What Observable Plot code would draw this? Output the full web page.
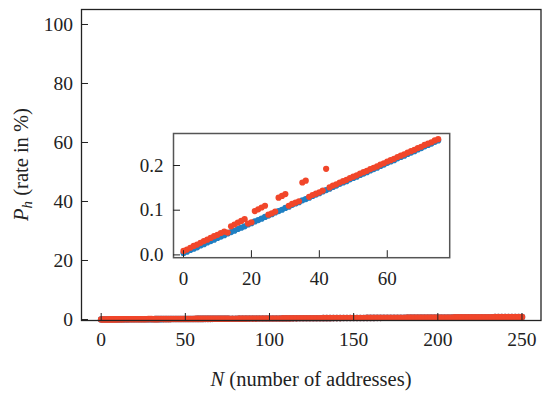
<!DOCTYPE html>
<html><head><meta charset="utf-8">
<script src="https://cdn.jsdelivr.net/npm/d3@7"></script>
<script src="https://cdn.jsdelivr.net/npm/@observablehq/plot@0.6"></script>
<style>
body{margin:0;background:#fff;}
#chart{position:relative;width:542px;height:394px;overflow:hidden;background:#fff;}
#chart svg{position:absolute;background:transparent;}
</style></head><body><div id="chart"></div>
<script>
// ---- data (rate Ph in %, N = number of addresses) ----
const insetN = [0,1,2,3,4,5,6,7,8,9,10,11,12,13,14,15,16,17,18,19,20,21,22,23,24,25,26,27,28,29,30,31,32,33,34,35,36,37,38,39,40,41,42,43,44,45,46,47,48,49,50,51,52,53,54,55,56,57,58,59,60,61,62,63,64,65,66,67,68,69,70,71,72,73,74,75];
const insetBlue = [0.004,0.007,0.011,0.014,0.017,0.021,0.024,0.028,0.031,0.034,0.038,0.041,0.044,0.048,0.051,0.054,0.058,0.061,0.064,0.068,0.071,0.075,0.078,0.081,0.085,0.088,0.091,0.095,0.098,0.101,0.105,0.108,0.112,0.115,0.118,0.122,0.125,0.128,0.132,0.135,0.138,0.142,0.145,0.148,0.152,0.155,0.159,0.162,0.165,0.169,0.172,0.175,0.179,0.182,0.185,0.189,0.192,0.195,0.199,0.202,0.206,0.209,0.212,0.216,0.219,0.222,0.226,0.229,0.232,0.236,0.239,0.243,0.246,0.249,0.253,0.256];
const insetRed = [0.009,0.012,0.016,0.020,0.023,0.027,0.031,0.034,0.038,0.042,0.045,0.049,0.052,0.050,0.064,0.068,0.072,0.076,0.080,0.070,0.073,0.098,0.102,0.106,0.110,0.090,0.093,0.097,0.128,0.132,0.136,0.110,0.114,0.117,0.120,0.162,0.166,0.130,0.134,0.137,0.140,0.144,0.1925,0.151,0.155,0.158,0.162,0.165,0.168,0.172,0.175,0.178,0.182,0.185,0.188,0.192,0.195,0.198,0.202,0.205,0.209,0.212,0.215,0.219,0.222,0.225,0.229,0.232,0.235,0.239,0.242,0.246,0.249,0.252,0.256,0.259];
const extN = [76,78,80,82,84,86,88,90,92,94,96,98,100,102,104,106,108,110,112,114,116,118,120,122,124,126,128,130,132,134,136,138,140,142,144,146,148,150,152,154,156,158,160,162,164,166,168,170,172,174,176,178,180,182,184,186,188,190,192,194,196,198,200,202,204,206,208,210,212,214,216,218,220,222,224,226,228,230,232,234,236,238,240,242,244,246,248,250];
const extBlue = [0.26,0.27,0.27,0.28,0.29,0.29,0.30,0.31,0.31,0.32,0.33,0.33,0.34,0.35,0.35,0.36,0.37,0.37,0.38,0.39,0.39,0.40,0.41,0.41,0.42,0.43,0.43,0.44,0.45,0.45,0.46,0.47,0.47,0.48,0.49,0.50,0.50,0.51,0.52,0.52,0.53,0.54,0.54,0.55,0.56,0.56,0.57,0.58,0.58,0.59,0.60,0.60,0.61,0.62,0.62,0.63,0.64,0.64,0.65,0.66,0.66,0.67,0.68,0.68,0.69,0.70,0.70,0.71,0.72,0.72,0.73,0.74,0.74,0.75,0.76,0.76,0.77,0.78,0.78,0.79,0.80,0.80,0.81,0.82,0.82,0.83,0.84,0.84];
const extRed = [0.26,0.27,0.27,0.28,0.29,0.29,0.30,0.31,0.31,0.32,0.33,0.33,0.34,0.35,0.35,0.36,0.37,0.37,0.38,0.39,0.39,0.40,0.41,0.41,0.42,0.43,0.43,0.44,0.45,0.45,0.46,0.47,0.47,0.48,0.49,0.50,0.50,0.51,0.52,0.52,0.53,0.54,0.54,0.55,0.56,0.56,0.57,0.58,0.58,0.59,0.60,0.60,0.61,0.62,0.62,0.63,0.64,0.64,0.65,0.66,0.66,0.67,0.68,0.68,0.69,0.70,0.70,0.71,0.72,0.72,0.73,0.74,0.74,0.75,0.76,0.76,0.77,0.78,0.78,0.79,0.80,0.80,0.81,0.82,0.82,0.83,0.84,0.84];
const mainXTicks = [0,50,100,150,200,250];
const mainYTicks = [0,20,40,60,80,100];
const insetXTicks = [0,20,40,60];
const insetYTicks = [0,0.1,0.2];
const xLabelItalic = "N", xLabelRest = " (number of addresses)";
const yLabelP = "P", yLabelSub = "h", yLabelRest = " (rate in %)";

const BLUE = "#1f7fc2", RED = "#f1462a";
const FONT = "'Liberation Serif', 'DejaVu Serif', serif";

const toRows = (ns, vs) => ns.map((n, i) => ({n, v: vs[i]}));
const insetBlueRows = toRows(insetN, insetBlue);
const insetRedRows = toRows(insetN, insetRed);
const mainBlueRows = insetBlueRows.concat(toRows(extN, extBlue));
const mainRedRows = insetRedRows.concat(toRows(extN, extRed));

const chart = document.getElementById("chart");

const main = Plot.plot({
  width: 542, height: 394,
  marginLeft: 81, marginRight: 1.5, marginTop: 9, marginBottom: 74,
  style: {fontFamily: FONT, fontSize: "19.5px", color: "#222", background: "transparent"},
  x: {domain: [-11.69, 261.3]},
  y: {domain: [-0.339, 105.08]},
  marks: [
    Plot.dot(mainBlueRows, {x: "n", y: "v", r: 3.3, fill: BLUE}),
    Plot.dot(mainRedRows, {x: "n", y: "v", r: 3.3, fill: RED}),
    Plot.frame({stroke: "#222", strokeWidth: 1.3}),
    Plot.axisX({ticks: mainXTicks, tickSize: -7, tickPadding: 19, label: null}),
    Plot.axisY({ticks: mainYTicks, tickSize: -7, tickPadding: 15.5, label: null})
  ]
});
main.style.left = "0px"; main.style.top = "0px";
chart.appendChild(main);

const ms = d3.select(main);
const xl = ms.append("text").attr("x", 311).attr("y", 386).attr("text-anchor", "middle")
  .attr("font-family", FONT).attr("font-size", 20.5).attr("fill", "#222");
xl.append("tspan").attr("font-style", "italic").text(xLabelItalic);
xl.append("tspan").text(xLabelRest);
const yl = ms.append("text").attr("transform", "translate(28,164.5) rotate(-90)").attr("text-anchor", "middle")
  .attr("font-family", FONT).attr("font-size", 20.5).attr("fill", "#222");
yl.append("tspan").attr("font-style", "italic").text(yLabelP);
yl.append("tspan").attr("font-style", "italic").attr("font-size", 15).attr("dy", 4).text(yLabelSub);
yl.append("tspan").attr("dy", -4).text(yLabelRest);

const inset = Plot.plot({
  width: 331, height: 166,
  marginLeft: 50, marginRight: 4.8, marginTop: 5, marginBottom: 36.8,
  style: {fontFamily: FONT, fontSize: "19px", color: "#222", background: "transparent"},
  x: {domain: [-2.945, 78.39]},
  y: {domain: [-0.00626, 0.2716]},
  marks: [
    Plot.dot(insetBlueRows, {x: "n", y: "v", r: 3.1, fill: BLUE}),
    Plot.dot(insetRedRows, {x: "n", y: "v", r: 3.1, fill: RED}),
    Plot.frame({stroke: "#555", strokeWidth: 1.5}),
    Plot.axisX({ticks: insetXTicks, tickSize: -7, tickPadding: 20.5, label: null}),
    Plot.axisY({ticks: insetYTicks, tickSize: -7, tickPadding: 17, tickFormat: d3.format(".1f"), label: null})
  ]
});
inset.style.left = "123.3px"; inset.style.top = "128.3px";
chart.appendChild(inset);
</script></body></html>
